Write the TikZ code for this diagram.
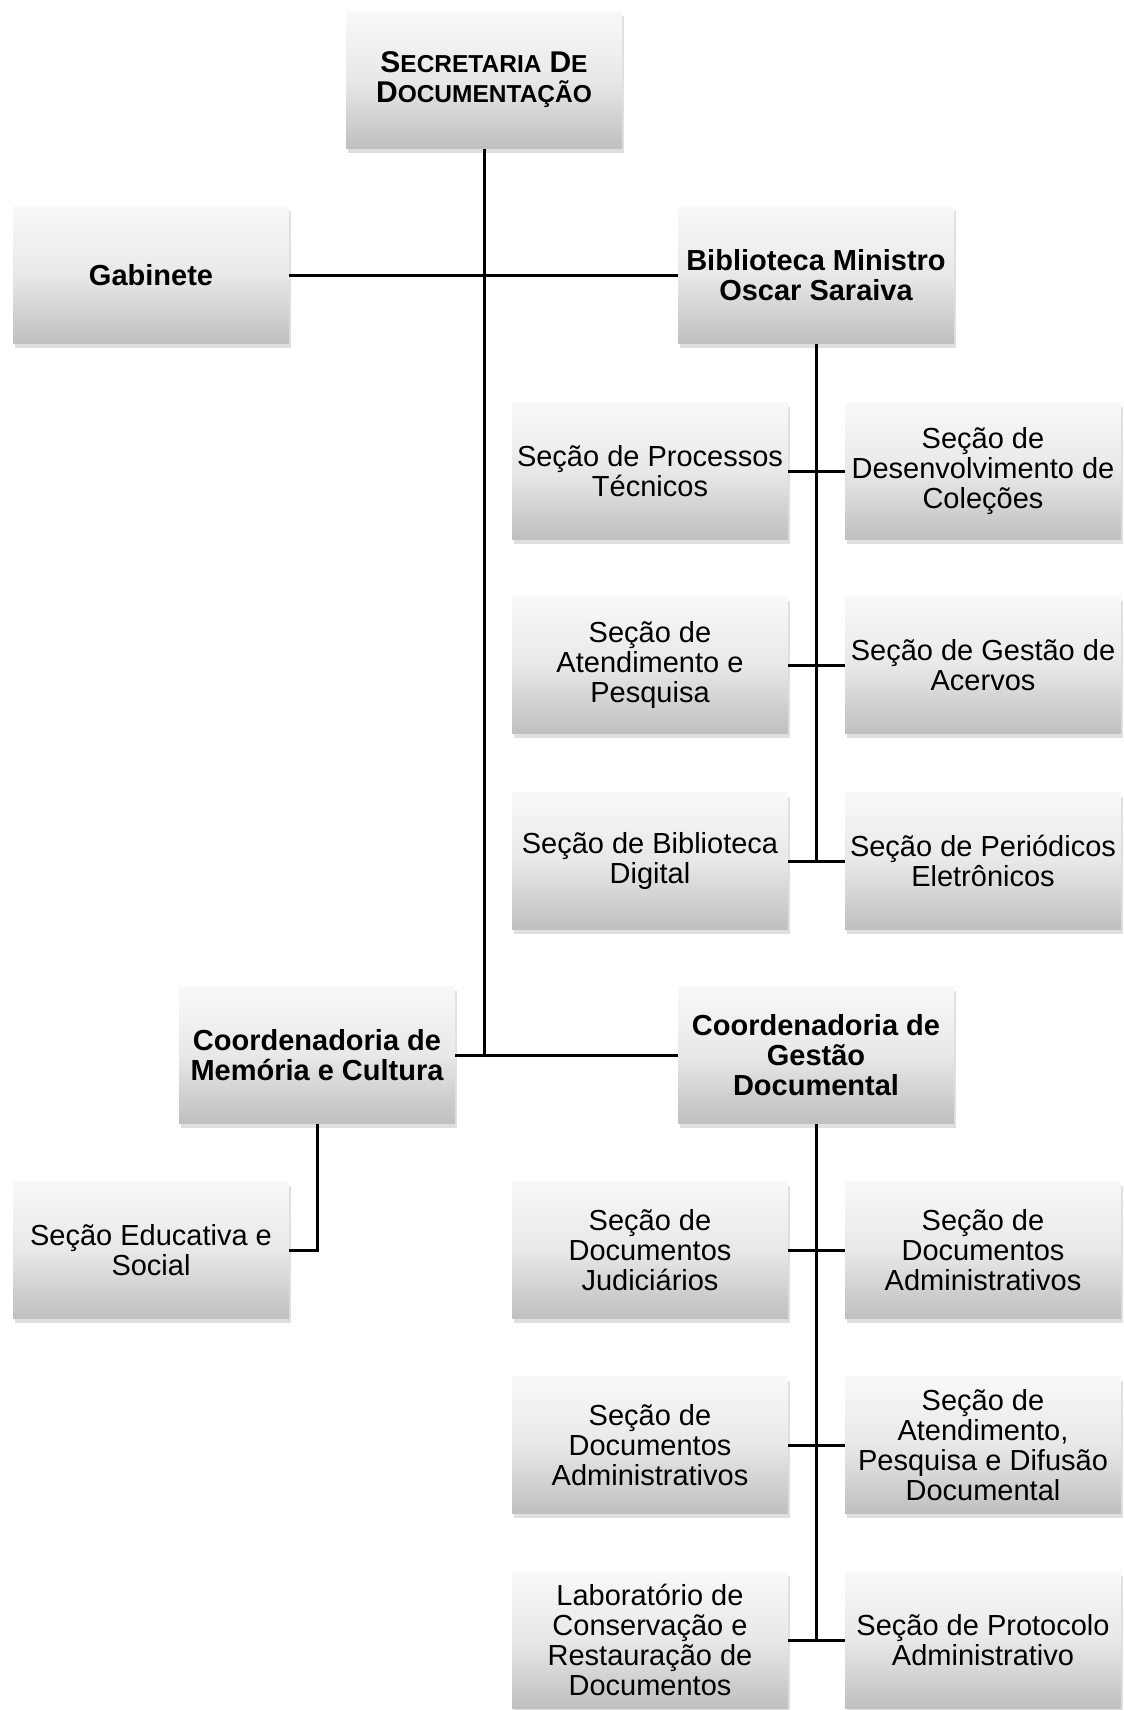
\documentclass[tikz,border=0pt]{standalone}
\usepackage{fontspec}
\setmainfont{Liberation Sans}
\usetikzlibrary{positioning, shadows}

% fake small caps for the top box
\newcommand{\capL}[1]{{\fontsize{15}{15}\selectfont #1}}
\newcommand{\capS}[1]{{\fontsize{12.25}{15}\selectfont #1}}

\begin{document}
\begin{tikzpicture}[x=0.5pt, y=-0.5pt,
  box/.style={minimum width=138pt, minimum height=68.5pt, inner sep=1pt, align=center,
    top color=gray!5, bottom color=gray!50, middle color=gray!18,
    drop shadow={shadow xshift=0.8pt, shadow yshift=-2pt, opacity=0.25},
    font=\fontsize{14.5}{15}\selectfont},
  head/.style={box, font=\fontsize{14.5}{15}\selectfont\bfseries},
  lnk/.style={line width=1.5pt, black},
]
\useasboundingbox (0,0) rectangle (1124,1710);

\node[head] (sec) at (484,80)  {\capL{S}\capS{ECRETARIA} \capL{D}\capS{E}\\\capL{D}\capS{OCUMENTAÇÃO}};
\node[head] (gab) at (151,275) {Gabinete};
\node[head] (bib) at (816,275) {Biblioteca Ministro\\Oscar Saraiva};

\node[box] (bproc) at (650,471) {Seção de Processos\\Técnicos};
\node[box] (bdes)  at (983,471) {Seção de\\Desenvolvimento de\\Coleções};
\node[box] (batd)  at (650,665) {Seção de\\Atendimento e\\Pesquisa};
\node[box] (bacv)  at (983,665) {Seção de Gestão de\\Acervos};
\node[box] (bdig)  at (650,861) {Seção de Biblioteca\\Digital};
\node[box] (bper)  at (983,861) {Seção de Periódicos\\Eletrônicos};

\node[head] (mem) at (317,1055) {Coordenadoria de\\Memória e Cultura};
\node[head] (ges) at (816,1055) {Coordenadoria de\\Gestão\\Documental};
\node[box]  (edu) at (151,1250) {Seção Educativa e\\Social};

\node[box] (gjud)  at (650,1250) {Seção de\\Documentos\\Judiciários};
\node[box] (gadm)  at (983,1250) {Seção de\\Documentos\\Administrativos};
\node[box] (gadm2) at (650,1445) {Seção de\\Documentos\\Administrativos};
\node[box] (gatd)  at (983,1445) {Seção de\\Atendimento,\\Pesquisa e Difusão\\Documental};
\node[box] (glab)  at (650,1640) {Laboratório de\\Conservação e\\Restauração de\\Documentos};
\node[box] (gprot) at (983,1640) {Seção de Protocolo\\Administrativo};

% trunk
\draw[lnk] (sec.south) -- (sec.south |- mem.east);
\draw[lnk] (gab.east) -- (bib.west);
\draw[lnk] (mem.east) -- (ges.west);
% biblioteca
\draw[lnk] (bib.south) -- (bib.south |- bdig.east);
\draw[lnk] (bproc.east) -- (bdes.west);
\draw[lnk] (batd.east) -- (bacv.west);
\draw[lnk] (bdig.east) -- (bper.west);
% memoria
\draw[lnk] (mem.south) |- (edu.east);
% gestao
\draw[lnk] (ges.south) -- (ges.south |- glab.east);
\draw[lnk] (gjud.east) -- (gadm.west);
\draw[lnk] (gadm2.east) -- (gatd.west);
\draw[lnk] (glab.east) -- (gprot.west);
\end{tikzpicture}
\end{document}
